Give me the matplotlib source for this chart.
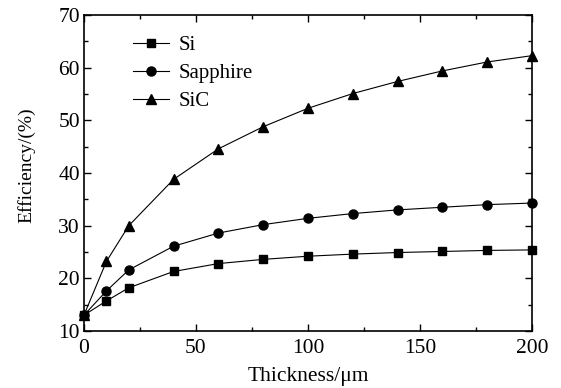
import matplotlib
matplotlib.use("Agg")
import matplotlib.pyplot as plt
from matplotlib.ticker import MultipleLocator

thickness = [0, 10, 20, 40, 60, 80, 100, 120, 140, 160, 180, 200]
si = [13.0, 15.7, 18.2, 21.3, 22.8, 23.6, 24.2, 24.6, 24.9, 25.1, 25.3, 25.4]
sapphire = [13.0, 17.6, 21.6, 26.1, 28.6, 30.2, 31.4, 32.3, 33.0, 33.5, 34.0, 34.3]
sic = [13.0, 23.2, 30.0, 38.8, 44.6, 48.8, 52.3, 55.1, 57.4, 59.4, 61.1, 62.3]

plt.rcParams['font.family'] = ['Liberation Serif', 'DejaVu Serif']
plt.rcParams['mathtext.fontset'] = 'stix'

fig = plt.figure(figsize=(5.61, 3.88), dpi=100)
ax = fig.add_axes([0.1497, 0.147, 0.7985, 0.814])

ax.plot(thickness, si, color='black', lw=0.8, marker='s', ms=6, label='Si', clip_on=False)
ax.plot(thickness, sapphire, color='black', lw=0.8, marker='o', ms=6.5, label='Sapphire', clip_on=False)
ax.plot(thickness, sic, color='black', lw=0.8, marker='^', ms=7, label='SiC', clip_on=False)

ax.set_xlim(0, 200)
ax.set_ylim(10, 70)
ax.xaxis.set_major_locator(MultipleLocator(50))
ax.xaxis.set_minor_locator(MultipleLocator(25))
ax.yaxis.set_major_locator(MultipleLocator(10))
ax.yaxis.set_minor_locator(MultipleLocator(5))
ax.tick_params(which='both', direction='in', top=True, right=True, labelsize=15.5, width=1)
ax.tick_params(which='major', length=5)
ax.tick_params(which='minor', length=3)
ax.tick_params(axis='y', pad=3)
ax.tick_params(axis='x', pad=6)
for s in ax.spines.values():
    s.set_linewidth(1.2)

ax.set_xlabel('Thickness/μm', fontsize=15.5)
ax.set_ylabel('Efficiency/(%)', fontsize=14)
ax.xaxis.set_label_coords(0.5, -0.115)
ax.yaxis.set_label_coords(-0.108, 0.525)

ax.legend(loc='upper left', bbox_to_anchor=(0.068, 0.995), frameon=False, fontsize=15,
          handlelength=1.7, labelspacing=0.4, handletextpad=0.5)

fig.savefig('out.png', dpi=100)
